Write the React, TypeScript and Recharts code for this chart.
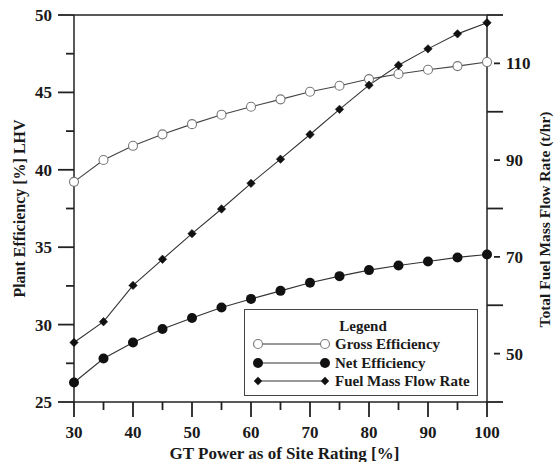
import React from 'react';
import { LineChart, Line, XAxis, YAxis, Legend, ReferenceLine } from 'recharts';

const gtPower = [30, 35, 40, 45, 50, 55, 60, 65, 70, 75, 80, 85, 90, 95, 100];
const grossEfficiency = [39.22, 40.63, 41.55, 42.29, 42.95, 43.56, 44.07, 44.55, 45.04, 45.43, 45.86, 46.19, 46.46, 46.7, 46.96];
const netEfficiency = [26.26, 27.81, 28.84, 29.72, 30.43, 31.1, 31.66, 32.18, 32.7, 33.13, 33.52, 33.82, 34.08, 34.34, 34.53];
const fuelMassFlow = [52.3, 56.6, 64.1, 69.5, 74.8, 79.9, 85.2, 90.2, 95.3, 100.5, 105.5, 109.6, 113.0, 116.1, 118.4];

const xMajorTicks = [30, 40, 50, 60, 70, 80, 90, 100];
const xMinorTicks = [35, 45, 55, 65, 75, 85, 95];
const leftMajorTicks = [25, 30, 35, 40, 45, 50];
const leftMinorTicks = [27.5, 32.5, 37.5, 42.5, 47.5];
const rightLongTicks = [40, 60, 80, 100, 120];
const rightLabeledTicks = [50, 70, 90, 110];

const seriesNames = ['Gross Efficiency', 'Net Efficiency', 'Fuel Mass Flow Rate'];
const xTitle = 'GT Power as of Site Rating [%]';
const leftTitle = 'Plant Efficiency [%] LHV';
const rightTitle = 'Total Fuel Mass Flow Rate (t/hr)';

const data = gtPower.map((p, i) => ({
  p,
  gross: grossEfficiency[i],
  net: netEfficiency[i],
  fuel: fuelMassFlow[i],
}));

const FONT = '"Liberation Serif", "Times New Roman", serif';
const AX = '#222';
const TXT = '#1a1a1a';
const TW = 1.8;
const tickFont = { fontFamily: FONT, fontWeight: 'bold', fontSize: 17, fill: TXT };
const axisLineStyle = { stroke: AX, strokeWidth: 1.5 };

// tick mark shapes drawn from the library-computed reference line endpoints
const bottomTick = (len: number) => (p: any) => {
  const x = Number(p.x1);
  const b = Math.max(Number(p.y1), Number(p.y2));
  return <path d={`M${x},${b}V${b + len}`} stroke={AX} strokeWidth={TW} fill="none" />;
};
const leftTick = (len: number) => (p: any) => {
  const y = Number(p.y1);
  const l = Math.min(Number(p.x1), Number(p.x2));
  return <path d={`M${l - len},${y}H${l}`} stroke={AX} strokeWidth={TW} fill="none" />;
};
const rightTick = (from: number, to: number) => (p: any) => {
  const y = Number(p.y1);
  const r = Math.max(Number(p.x1), Number(p.x2));
  return <path d={`M${r + from},${y}H${r + to}`} stroke={AX} strokeWidth={TW} fill="none" />;
};

const XTitle = (props: any) => {
  const vb = props.viewBox || {};
  const cx = vb.x + vb.width / 2;
  return (
    <text x={cx + 4} y={453} dy="0.35em" textAnchor="middle" fontFamily={FONT} fontWeight="bold" fontSize={17} fill={TXT}>
      {xTitle}
    </text>
  );
};

const LeftTitle = (props: any) => {
  const vb = props.viewBox || {};
  const cy = vb.y + vb.height / 2;
  const cx = 19;
  return (
    <text x={cx} y={cy} dy="0.35em" transform={`rotate(-90 ${cx} ${cy})`} textAnchor="middle"
      fontFamily={FONT} fontWeight="bold" fontSize={16} fill={TXT}>
      {leftTitle}
    </text>
  );
};

const RightTitle = (props: any) => {
  const vb = props.viewBox || {};
  const cy = vb.y + vb.height / 2 + 11;
  const cx = 545;
  return (
    <text x={cx} y={cy} dy="0.35em" transform={`rotate(-90 ${cx} ${cy})`} textAnchor="middle"
      fontFamily={FONT} fontWeight="bold" fontSize={15.5} fill={TXT}>
      {rightTitle}
    </text>
  );
};

const Diamond = (props: any) => {
  const { cx, cy, index } = props;
  if (cx == null || cy == null) return <g key={`d-${index}`} />;
  const s = 4.2;
  return (
    <path key={`d-${index}`} d={`M${cx},${cy - s} L${cx + s},${cy} L${cx},${cy + s} L${cx - s},${cy} Z`}
      fill="#111" stroke="#111" strokeWidth={0.6} />
  );
};

const markerFor = (i: number, cx: number, cy: number) => {
  if (i === 0) return <circle cx={cx} cy={cy} r={4.5} fill="#fff" stroke="#777" strokeWidth={1.1} />;
  if (i === 1) return <circle cx={cx} cy={cy} r={5} fill="#111" />;
  const s = 4.2;
  return <path d={`M${cx},${cy - s} L${cx + s},${cy} L${cx},${cy + s} L${cx - s},${cy} Z`} fill="#111" />;
};

const LegendBox = () => (
  <div style={{
    width: 234, height: 87, border: '1.5px solid #444', background: '#fff', boxSizing: 'border-box',
    fontFamily: FONT, fontWeight: 'bold', fontSize: 15, color: TXT, position: 'relative',
  }}>
    <div style={{ position: 'absolute', left: 0, width: 232, top: 7, textAlign: 'center', lineHeight: '18px' }}>
      <span style={{ position: 'relative', left: 2 }}>Legend</span>
    </div>
    {seriesNames.map((name, i) => (
      <div key={name} style={{ position: 'absolute', left: 0, top: 25 + i * 18.7, height: 18, width: 232 }}>
        <svg width={90} height={18} style={{ position: 'absolute', left: 0, top: 0 }}>
          <line x1={13} x2={80} y1={9} y2={9} stroke="#333" strokeWidth={1} />
          {markerFor(i, 13, 9)}
          {markerFor(i, 80, 9)}
        </svg>
        <span style={{ position: 'absolute', left: 90, top: 0, lineHeight: '18px', whiteSpace: 'nowrap' }}>{name}</span>
      </div>
    ))}
  </div>
);

export default function App() {
  return (
    <div style={{ position: 'absolute', left: 0, top: 0, width: 555, height: 462, background: '#fff' }}>
      <LineChart width={555} height={462} data={data} margin={{ top: 15, right: 0, bottom: 0, left: 0 }}>
        <XAxis
          dataKey="p"
          type="number"
          domain={[30, 100]}
          ticks={xMajorTicks}
          interval={0}
          tickSize={0}
          tickMargin={24}
          tickLine={false}
          axisLine={axisLineStyle}
          tick={tickFont}
          height={60}
          label={<XTitle />}
        />
        <YAxis
          yAxisId="left"
          orientation="left"
          type="number"
          domain={[25, 50]}
          ticks={leftMajorTicks}
          interval={0}
          tickSize={0}
          tickMargin={22}
          tickLine={false}
          axisLine={axisLineStyle}
          tick={tickFont}
          width={74}
          label={<LeftTitle />}
        />
        <YAxis
          yAxisId="right"
          orientation="right"
          type="number"
          domain={[40, 120]}
          ticks={rightLabeledTicks}
          interval={0}
          tickSize={0}
          tickMargin={19}
          tickLine={false}
          axisLine={axisLineStyle}
          tick={tickFont}
          width={68}
          label={<RightTitle />}
        />
        <ReferenceLine yAxisId="left" y={50} stroke={AX} strokeWidth={1.5} ifOverflow="visible" />
        {xMajorTicks.map((v) => (
          <ReferenceLine key={`xM${v}`} yAxisId="left" x={v} ifOverflow="visible" shape={bottomTick(15)} />
        ))}
        {xMinorTicks.map((v) => (
          <ReferenceLine key={`xm${v}`} yAxisId="left" x={v} ifOverflow="visible" shape={bottomTick(8)} />
        ))}
        {leftMajorTicks.map((v) => (
          <ReferenceLine key={`lM${v}`} yAxisId="left" y={v} ifOverflow="visible" shape={leftTick(16)} />
        ))}
        {leftMinorTicks.map((v) => (
          <ReferenceLine key={`lm${v}`} yAxisId="left" y={v} ifOverflow="visible" shape={leftTick(8)} />
        ))}
        {rightLongTicks.map((v) => (
          <ReferenceLine key={`rL${v}`} yAxisId="right" y={v} ifOverflow="visible" shape={rightTick(0, 16)} />
        ))}
        {rightLabeledTicks.map((v) => (
          <ReferenceLine key={`rl${v}`} yAxisId="right" y={v} ifOverflow="visible" shape={rightTick(7, 13)} />
        ))}
        <Line yAxisId="left" dataKey="gross" name={seriesNames[0]} type="linear" stroke="#444" strokeWidth={1.1}
          dot={{ r: 4.5, fill: '#fff', stroke: '#777', strokeWidth: 1.1 }} isAnimationActive={false} />
        <Line yAxisId="left" dataKey="net" name={seriesNames[1]} type="linear" stroke="#333" strokeWidth={1.1}
          dot={{ r: 5, fill: '#111', stroke: '#111', strokeWidth: 0 }} isAnimationActive={false} />
        <Line yAxisId="right" dataKey="fuel" name={seriesNames[2]} type="linear" stroke="#333" strokeWidth={1.1}
          dot={<Diamond />} isAnimationActive={false} />
        <Legend
          layout="vertical"
          align="center"
          verticalAlign="middle"
          content={() => <LegendBox />}
          wrapperStyle={{ position: 'absolute', left: 244, top: 309, width: 234, height: 87 }}
        />
      </LineChart>
    </div>
  );
}
